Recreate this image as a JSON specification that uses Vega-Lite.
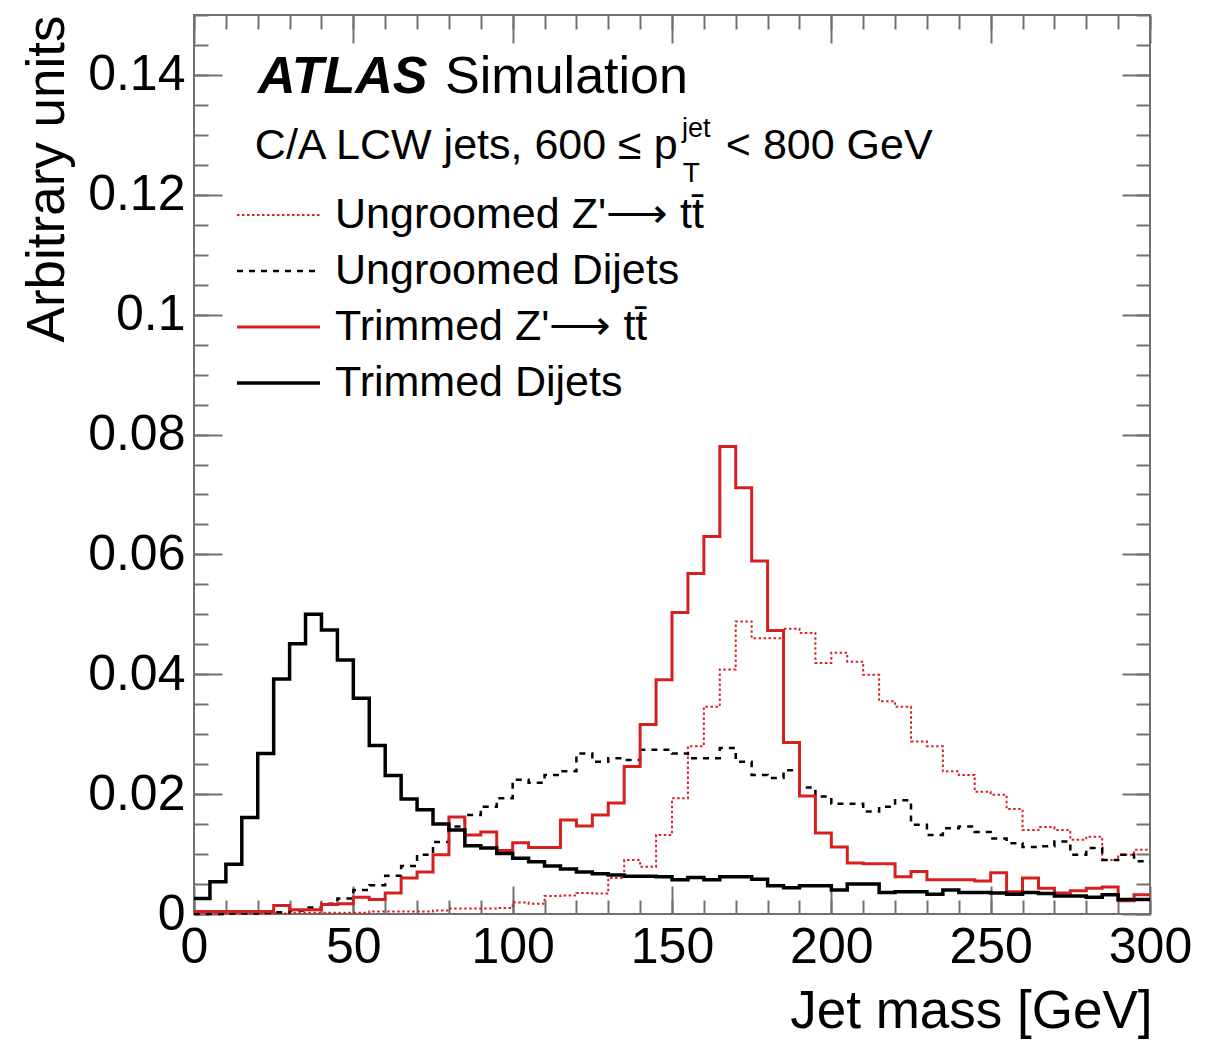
{
  "$schema": "https://vega.github.io/schema/vega-lite/v6.json",
  "width": 956,
  "height": 899,
  "autosize": {"type": "none"},
  "padding": {"left": 194, "top": 15, "right": 70, "bottom": 129},
  "background": "white",
  "config": {
    "font": "Liberation Sans",
    "view": {"stroke": "#707070", "strokeWidth": 2},
    "axis": {"domain": false, "grid": false, "tickColor": "#707070", "tickWidth": 2, "labelColor": "black", "titleColor": "black", "labelFont": "Liberation Sans", "titleFont": "Liberation Sans", "titleFontWeight": "normal"},
    "legend": {"symbolType": "stroke", "symbolSize": 6889, "labelFontSize": 43, "labelFont": "Liberation Sans", "labelColor": "black", "labelOffset": 13, "labelLimit": 0, "rowPadding": 6, "clipHeight": 50, "padding": 0}
  },
  "datasets": {
    "names": [
      {"k": "UZ", "series": "Ungroomed Z'\u27f6 tt\u0304"},
      {"k": "UD", "series": "Ungroomed Dijets"},
      {"k": "TZ", "series": "Trimmed Z'\u27f6 tt\u0304"},
      {"k": "TD", "series": "Trimmed Dijets"}
    ],
    "bins": [
      {"lo": 0, "hi": 5, "UZ": 0.0001, "UD": 0.0000, "TZ": 0.0004, "TD": 0.0026},
      {"lo": 5, "hi": 10, "UZ": 0.0001, "UD": 0.0000, "TZ": 0.0004, "TD": 0.0054},
      {"lo": 10, "hi": 15, "UZ": 0.0001, "UD": 0.0001, "TZ": 0.0004, "TD": 0.0083},
      {"lo": 15, "hi": 20, "UZ": 0.0001, "UD": 0.0001, "TZ": 0.0004, "TD": 0.0161},
      {"lo": 20, "hi": 25, "UZ": 0.0001, "UD": 0.0002, "TZ": 0.0004, "TD": 0.0268},
      {"lo": 25, "hi": 30, "UZ": 0.0001, "UD": 0.0003, "TZ": 0.0014, "TD": 0.0392},
      {"lo": 30, "hi": 35, "UZ": 0.0002, "UD": 0.0006, "TZ": 0.0007, "TD": 0.0451},
      {"lo": 35, "hi": 40, "UZ": 0.0002, "UD": 0.0011, "TZ": 0.0007, "TD": 0.0500},
      {"lo": 40, "hi": 45, "UZ": 0.0002, "UD": 0.0017, "TZ": 0.0016, "TD": 0.0474},
      {"lo": 45, "hi": 50, "UZ": 0.0002, "UD": 0.0026, "TZ": 0.0017, "TD": 0.0424},
      {"lo": 50, "hi": 55, "UZ": 0.0002, "UD": 0.0040, "TZ": 0.0028, "TD": 0.0360},
      {"lo": 55, "hi": 60, "UZ": 0.0004, "UD": 0.0048, "TZ": 0.0024, "TD": 0.0281},
      {"lo": 60, "hi": 65, "UZ": 0.0004, "UD": 0.0064, "TZ": 0.0035, "TD": 0.0231},
      {"lo": 65, "hi": 70, "UZ": 0.0004, "UD": 0.0080, "TZ": 0.0060, "TD": 0.0192},
      {"lo": 70, "hi": 75, "UZ": 0.0004, "UD": 0.0099, "TZ": 0.0070, "TD": 0.0174},
      {"lo": 75, "hi": 80, "UZ": 0.0006, "UD": 0.0120, "TZ": 0.0099, "TD": 0.0150},
      {"lo": 80, "hi": 85, "UZ": 0.0009, "UD": 0.0146, "TZ": 0.0162, "TD": 0.0140},
      {"lo": 85, "hi": 90, "UZ": 0.0009, "UD": 0.0165, "TZ": 0.0132, "TD": 0.0114},
      {"lo": 90, "hi": 95, "UZ": 0.0009, "UD": 0.0179, "TZ": 0.0137, "TD": 0.0110},
      {"lo": 95, "hi": 100, "UZ": 0.0010, "UD": 0.0193, "TZ": 0.0106, "TD": 0.0101},
      {"lo": 100, "hi": 105, "UZ": 0.0019, "UD": 0.0224, "TZ": 0.0119, "TD": 0.0093},
      {"lo": 105, "hi": 110, "UZ": 0.0017, "UD": 0.0219, "TZ": 0.0111, "TD": 0.0087},
      {"lo": 110, "hi": 115, "UZ": 0.0030, "UD": 0.0232, "TZ": 0.0111, "TD": 0.0080},
      {"lo": 115, "hi": 120, "UZ": 0.0031, "UD": 0.0238, "TZ": 0.0157, "TD": 0.0075},
      {"lo": 120, "hi": 125, "UZ": 0.0035, "UD": 0.0268, "TZ": 0.0147, "TD": 0.0070},
      {"lo": 125, "hi": 130, "UZ": 0.0034, "UD": 0.0254, "TZ": 0.0165, "TD": 0.0067},
      {"lo": 130, "hi": 135, "UZ": 0.0060, "UD": 0.0260, "TZ": 0.0185, "TD": 0.0065},
      {"lo": 135, "hi": 140, "UZ": 0.0090, "UD": 0.0257, "TZ": 0.0246, "TD": 0.0063},
      {"lo": 140, "hi": 145, "UZ": 0.0079, "UD": 0.0274, "TZ": 0.0316, "TD": 0.0063},
      {"lo": 145, "hi": 150, "UZ": 0.0132, "UD": 0.0274, "TZ": 0.0391, "TD": 0.0062},
      {"lo": 150, "hi": 155, "UZ": 0.0193, "UD": 0.0268, "TZ": 0.0503, "TD": 0.0057},
      {"lo": 155, "hi": 160, "UZ": 0.0280, "UD": 0.0260, "TZ": 0.0568, "TD": 0.0061},
      {"lo": 160, "hi": 165, "UZ": 0.0346, "UD": 0.0260, "TZ": 0.0630, "TD": 0.0057},
      {"lo": 165, "hi": 170, "UZ": 0.0408, "UD": 0.0277, "TZ": 0.0780, "TD": 0.0062},
      {"lo": 170, "hi": 175, "UZ": 0.0488, "UD": 0.0254, "TZ": 0.0711, "TD": 0.0062},
      {"lo": 175, "hi": 180, "UZ": 0.0460, "UD": 0.0232, "TZ": 0.0589, "TD": 0.0058},
      {"lo": 180, "hi": 185, "UZ": 0.0460, "UD": 0.0227, "TZ": 0.0473, "TD": 0.0047},
      {"lo": 185, "hi": 190, "UZ": 0.0476, "UD": 0.0240, "TZ": 0.0286, "TD": 0.0044},
      {"lo": 190, "hi": 195, "UZ": 0.0469, "UD": 0.0211, "TZ": 0.0197, "TD": 0.0047},
      {"lo": 195, "hi": 200, "UZ": 0.0419, "UD": 0.0196, "TZ": 0.0135, "TD": 0.0047},
      {"lo": 200, "hi": 205, "UZ": 0.0436, "UD": 0.0184, "TZ": 0.0112, "TD": 0.0040},
      {"lo": 205, "hi": 210, "UZ": 0.0421, "UD": 0.0184, "TZ": 0.0085, "TD": 0.0050},
      {"lo": 210, "hi": 215, "UZ": 0.0399, "UD": 0.0171, "TZ": 0.0084, "TD": 0.0050},
      {"lo": 215, "hi": 220, "UZ": 0.0355, "UD": 0.0179, "TZ": 0.0084, "TD": 0.0036},
      {"lo": 220, "hi": 225, "UZ": 0.0346, "UD": 0.0190, "TZ": 0.0062, "TD": 0.0037},
      {"lo": 225, "hi": 230, "UZ": 0.0288, "UD": 0.0149, "TZ": 0.0071, "TD": 0.0037},
      {"lo": 230, "hi": 235, "UZ": 0.0280, "UD": 0.0132, "TZ": 0.0057, "TD": 0.0033},
      {"lo": 235, "hi": 240, "UZ": 0.0238, "UD": 0.0143, "TZ": 0.0057, "TD": 0.0040},
      {"lo": 240, "hi": 245, "UZ": 0.0232, "UD": 0.0146, "TZ": 0.0057, "TD": 0.0036},
      {"lo": 245, "hi": 250, "UZ": 0.0204, "UD": 0.0137, "TZ": 0.0055, "TD": 0.0036},
      {"lo": 250, "hi": 255, "UZ": 0.0199, "UD": 0.0126, "TZ": 0.0069, "TD": 0.0035},
      {"lo": 255, "hi": 260, "UZ": 0.0175, "UD": 0.0118, "TZ": 0.0037, "TD": 0.0033},
      {"lo": 260, "hi": 265, "UZ": 0.0140, "UD": 0.0112, "TZ": 0.0060, "TD": 0.0036},
      {"lo": 265, "hi": 270, "UZ": 0.0145, "UD": 0.0113, "TZ": 0.0043, "TD": 0.0034},
      {"lo": 270, "hi": 275, "UZ": 0.0140, "UD": 0.0121, "TZ": 0.0035, "TD": 0.0030},
      {"lo": 275, "hi": 280, "UZ": 0.0124, "UD": 0.0099, "TZ": 0.0039, "TD": 0.0030},
      {"lo": 280, "hi": 285, "UZ": 0.0129, "UD": 0.0110, "TZ": 0.0043, "TD": 0.0028},
      {"lo": 285, "hi": 290, "UZ": 0.0090, "UD": 0.0090, "TZ": 0.0045, "TD": 0.0032},
      {"lo": 290, "hi": 295, "UZ": 0.0099, "UD": 0.0099, "TZ": 0.0022, "TD": 0.0024},
      {"lo": 295, "hi": 300, "UZ": 0.0107, "UD": 0.0088, "TZ": 0.0032, "TD": 0.0024}
    ]
  },
  "layer": [
    {
      "data": {"name": "bins"},
      "transform": [
        {"fold": ["UZ", "UD", "TZ", "TD"], "as": ["k", "v"]},
        {"filter": "datum.k == 'UZ'"},
        {"lookup": "k", "from": {"data": {"name": "names"}, "key": "k", "fields": ["series"]}},
        {"fold": ["lo", "hi"], "as": ["edge", "x"]}
      ],
      "mark": {"type": "line", "interpolate": "linear"},
      "encoding": {
        "x": {"field": "x", "type": "quantitative", "scale": {"domain": [0, 300], "nice": false, "zero": false},
          "axis": {"orient": "bottom", "values": [0, 50, 100, 150, 200, 250, 300], "tickSize": -28, "labelPadding": 36, "labelFontSize": 50, "labelFlush": false, "labelOverlap": false, "format": "d", "title": "Jet mass [GeV]", "titleFontSize": 53, "titleX": 958, "titleY": 113, "titleAlign": "right", "titleBaseline": "alphabetic", "titleAngle": 0}},
        "y": {"field": "v", "type": "quantitative", "scale": {"domain": [0, 0.15], "nice": false, "zero": false},
          "axis": {"orient": "left", "values": [0, 0.02, 0.04, 0.06, 0.08, 0.1, 0.12, 0.14], "tickSize": -28, "labelPadding": 37, "labelFontSize": 50, "labelFlush": false, "labelOverlap": false, "format": "~g", "title": "Arbitrary units", "titleFontSize": 53, "titleX": -131, "titleY": 0, "titleAngle": 270, "titleAlign": "right", "titleBaseline": "alphabetic"}},
        "order": [{"field": "x", "type": "quantitative"}, {"field": "edge", "type": "nominal"}],
        "color": {"field": "series", "type": "nominal", "title": null,
          "scale": {"domain": ["Ungroomed Z'\u27f6 tt\u0304", "Ungroomed Dijets", "Trimmed Z'\u27f6 tt\u0304", "Trimmed Dijets"], "range": ["#dd2222", "#000000", "#d61f1f", "#000000"]},
          "legend": {"orient": "none", "legendX": 41, "legendY": 175}},
        "strokeDash": {"field": "series", "type": "nominal", "title": null,
          "scale": {"domain": ["Ungroomed Z'\u27f6 tt\u0304", "Ungroomed Dijets", "Trimmed Z'\u27f6 tt\u0304", "Trimmed Dijets"], "range": [[2.5, 2.5], [6, 6], [1, 0], [1, 0]]},
          "legend": {"orient": "none", "legendX": 41, "legendY": 175}},
        "strokeWidth": {"field": "series", "type": "nominal", "title": null,
          "scale": {"domain": ["Ungroomed Z'\u27f6 tt\u0304", "Ungroomed Dijets", "Trimmed Z'\u27f6 tt\u0304", "Trimmed Dijets"], "range": [2, 3.5, 3.5, 3.5]},
          "legend": {"orient": "none", "legendX": 41, "legendY": 175}}
      }
    },
    {
      "data": {"name": "bins"},
      "transform": [
        {"fold": ["UZ", "UD", "TZ", "TD"], "as": ["k", "v"]},
        {"filter": "datum.k == 'UD'"},
        {"lookup": "k", "from": {"data": {"name": "names"}, "key": "k", "fields": ["series"]}},
        {"fold": ["lo", "hi"], "as": ["edge", "x"]}
      ],
      "mark": {"type": "line", "interpolate": "linear"},
      "encoding": {
        "x": {"field": "x", "type": "quantitative", "scale": {"domain": [0, 300], "nice": false, "zero": false},
          "axis": {"orient": "bottom", "values": [0, 10, 20, 30, 40, 50, 60, 70, 80, 90, 100, 110, 120, 130, 140, 150, 160, 170, 180, 190, 200, 210, 220, 230, 240, 250, 260, 270, 280, 290, 300], "tickSize": -14, "labels": false, "title": null}},
        "y": {"field": "v", "type": "quantitative", "scale": {"domain": [0, 0.15], "nice": false, "zero": false},
          "axis": {"orient": "left", "values": [0, 0.005, 0.01, 0.015, 0.02, 0.025, 0.03, 0.035, 0.04, 0.045, 0.05, 0.055, 0.06, 0.065, 0.07, 0.075, 0.08, 0.085, 0.09, 0.095, 0.1, 0.105, 0.11, 0.115, 0.12, 0.125, 0.13, 0.135, 0.14, 0.145, 0.15], "tickSize": -14, "labels": false, "title": null}},
        "order": [{"field": "x", "type": "quantitative"}, {"field": "edge", "type": "nominal"}],
        "color": {"field": "series", "type": "nominal", "title": null,
          "scale": {"domain": ["Ungroomed Z'\u27f6 tt\u0304", "Ungroomed Dijets", "Trimmed Z'\u27f6 tt\u0304", "Trimmed Dijets"], "range": ["#dd2222", "#000000", "#d61f1f", "#000000"]}},
        "strokeDash": {"field": "series", "type": "nominal", "title": null,
          "scale": {"domain": ["Ungroomed Z'\u27f6 tt\u0304", "Ungroomed Dijets", "Trimmed Z'\u27f6 tt\u0304", "Trimmed Dijets"], "range": [[2.5, 2.5], [6, 6], [1, 0], [1, 0]]}},
        "strokeWidth": {"field": "series", "type": "nominal", "title": null,
          "scale": {"domain": ["Ungroomed Z'\u27f6 tt\u0304", "Ungroomed Dijets", "Trimmed Z'\u27f6 tt\u0304", "Trimmed Dijets"], "range": [2, 3.5, 3.5, 3.5]}}
      }
    },
    {
      "data": {"name": "bins"},
      "transform": [
        {"fold": ["UZ", "UD", "TZ", "TD"], "as": ["k", "v"]},
        {"filter": "datum.k == 'TZ'"},
        {"lookup": "k", "from": {"data": {"name": "names"}, "key": "k", "fields": ["series"]}},
        {"fold": ["lo", "hi"], "as": ["edge", "x"]}
      ],
      "mark": {"type": "line", "interpolate": "linear"},
      "encoding": {
        "x": {"field": "x", "type": "quantitative", "scale": {"domain": [0, 300], "nice": false, "zero": false},
          "axis": {"orient": "top", "values": [0, 50, 100, 150, 200, 250, 300], "tickSize": -28, "labels": false, "title": null}},
        "y": {"field": "v", "type": "quantitative", "scale": {"domain": [0, 0.15], "nice": false, "zero": false},
          "axis": {"orient": "right", "values": [0, 0.02, 0.04, 0.06, 0.08, 0.1, 0.12, 0.14], "tickSize": -28, "labels": false, "title": null}},
        "order": [{"field": "x", "type": "quantitative"}, {"field": "edge", "type": "nominal"}],
        "color": {"field": "series", "type": "nominal", "title": null,
          "scale": {"domain": ["Ungroomed Z'\u27f6 tt\u0304", "Ungroomed Dijets", "Trimmed Z'\u27f6 tt\u0304", "Trimmed Dijets"], "range": ["#dd2222", "#000000", "#d61f1f", "#000000"]}},
        "strokeDash": {"field": "series", "type": "nominal", "title": null,
          "scale": {"domain": ["Ungroomed Z'\u27f6 tt\u0304", "Ungroomed Dijets", "Trimmed Z'\u27f6 tt\u0304", "Trimmed Dijets"], "range": [[2.5, 2.5], [6, 6], [1, 0], [1, 0]]}},
        "strokeWidth": {"field": "series", "type": "nominal", "title": null,
          "scale": {"domain": ["Ungroomed Z'\u27f6 tt\u0304", "Ungroomed Dijets", "Trimmed Z'\u27f6 tt\u0304", "Trimmed Dijets"], "range": [2, 3.5, 3.5, 3.5]}}
      }
    },
    {
      "data": {"name": "bins"},
      "transform": [
        {"fold": ["UZ", "UD", "TZ", "TD"], "as": ["k", "v"]},
        {"filter": "datum.k == 'TD'"},
        {"lookup": "k", "from": {"data": {"name": "names"}, "key": "k", "fields": ["series"]}},
        {"fold": ["lo", "hi"], "as": ["edge", "x"]}
      ],
      "mark": {"type": "line", "interpolate": "linear"},
      "encoding": {
        "x": {"field": "x", "type": "quantitative", "scale": {"domain": [0, 300], "nice": false, "zero": false},
          "axis": {"orient": "top", "values": [0, 10, 20, 30, 40, 50, 60, 70, 80, 90, 100, 110, 120, 130, 140, 150, 160, 170, 180, 190, 200, 210, 220, 230, 240, 250, 260, 270, 280, 290, 300], "tickSize": -14, "labels": false, "title": null}},
        "y": {"field": "v", "type": "quantitative", "scale": {"domain": [0, 0.15], "nice": false, "zero": false},
          "axis": {"orient": "right", "values": [0, 0.005, 0.01, 0.015, 0.02, 0.025, 0.03, 0.035, 0.04, 0.045, 0.05, 0.055, 0.06, 0.065, 0.07, 0.075, 0.08, 0.085, 0.09, 0.095, 0.1, 0.105, 0.11, 0.115, 0.12, 0.125, 0.13, 0.135, 0.14, 0.145, 0.15], "tickSize": -14, "labels": false, "title": null}},
        "order": [{"field": "x", "type": "quantitative"}, {"field": "edge", "type": "nominal"}],
        "color": {"field": "series", "type": "nominal", "title": null,
          "scale": {"domain": ["Ungroomed Z'\u27f6 tt\u0304", "Ungroomed Dijets", "Trimmed Z'\u27f6 tt\u0304", "Trimmed Dijets"], "range": ["#dd2222", "#000000", "#d61f1f", "#000000"]}},
        "strokeDash": {"field": "series", "type": "nominal", "title": null,
          "scale": {"domain": ["Ungroomed Z'\u27f6 tt\u0304", "Ungroomed Dijets", "Trimmed Z'\u27f6 tt\u0304", "Trimmed Dijets"], "range": [[2.5, 2.5], [6, 6], [1, 0], [1, 0]]}},
        "strokeWidth": {"field": "series", "type": "nominal", "title": null,
          "scale": {"domain": ["Ungroomed Z'\u27f6 tt\u0304", "Ungroomed Dijets", "Trimmed Z'\u27f6 tt\u0304", "Trimmed Dijets"], "range": [2, 3.5, 3.5, 3.5]}}
      }
    },
    {
      "data": {"values": [{}]},
      "mark": {"type": "text", "text": "ATLAS", "fontSize": 52, "fontWeight": "bold", "fontStyle": "italic", "align": "left", "baseline": "alphabetic", "color": "black"},
      "encoding": {"x": {"datum": 20.1, "type": "quantitative", "axis": null}, "y": {"datum": 0.137, "type": "quantitative", "axis": null}}
    },
    {
      "data": {"values": [{}]},
      "mark": {"type": "text", "text": "Simulation", "fontSize": 52, "align": "left", "baseline": "alphabetic", "color": "black"},
      "encoding": {"x": {"datum": 78.8, "type": "quantitative", "axis": null}, "y": {"datum": 0.137, "type": "quantitative", "axis": null}}
    },
    {
      "data": {"values": [{}]},
      "mark": {"type": "text", "text": "C/A LCW jets, 600 \u2264 p", "fontSize": 43, "align": "left", "baseline": "alphabetic", "color": "black"},
      "encoding": {"x": {"datum": 19.1, "type": "quantitative", "axis": null}, "y": {"datum": 0.126, "type": "quantitative", "axis": null}}
    },
    {
      "data": {"values": [{}]},
      "mark": {"type": "text", "text": "jet", "fontSize": 27, "align": "left", "baseline": "alphabetic", "color": "black"},
      "encoding": {"x": {"datum": 153.1, "type": "quantitative", "axis": null}, "y": {"datum": 0.1297, "type": "quantitative", "axis": null}}
    },
    {
      "data": {"values": [{}]},
      "mark": {"type": "text", "text": "T", "fontSize": 28, "align": "left", "baseline": "alphabetic", "color": "black"},
      "encoding": {"x": {"datum": 153.4, "type": "quantitative", "axis": null}, "y": {"datum": 0.1221, "type": "quantitative", "axis": null}}
    },
    {
      "data": {"values": [{}]},
      "mark": {"type": "text", "text": "< 800 GeV", "fontSize": 43, "align": "left", "baseline": "alphabetic", "color": "black"},
      "encoding": {"x": {"datum": 166.9, "type": "quantitative", "axis": null}, "y": {"datum": 0.126, "type": "quantitative", "axis": null}}
    }
  ],
  "resolve": {"axis": {"x": "independent", "y": "independent"}}
}
